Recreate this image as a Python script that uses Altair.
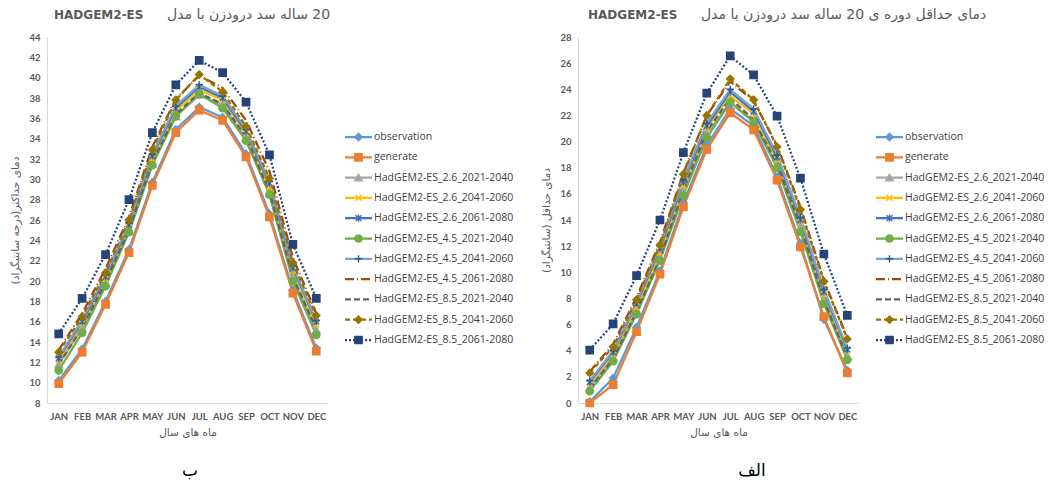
import altair as alt
import pandas as pd

MONTHS = ["JAN", "FEB", "MAR", "APR", "MAY", "JUN", "JUL", "AUG", "SEP", "OCT", "NOV", "DEC"]

SERIES = [
    "observation",
    "generate",
    "HadGEM2-ES_2.6_2021-2040",
    "HadGEM2-ES_2.6_2041-2060",
    "HadGEM2-ES_2.6_2061-2080",
    "HadGEM2-ES_4.5_2021-2040",
    "HadGEM2-ES_4.5_2041-2060",
    "HadGEM2-ES_4.5_2061-2080",
    "HadGEM2-ES_8.5_2021-2040",
    "HadGEM2-ES_8.5_2041-2060",
    "HadGEM2-ES_8.5_2061-2080",
]

# Maximum temperature (°C), one list per series, JAN..DEC
TMAX = {
    "observation":              [10.2, 13.3, 18.0, 23.1, 29.7, 34.9, 37.1, 36.1, 32.5, 26.6, 19.1, 13.4],
    "generate":                 [9.9, 13.0, 17.7, 22.8, 29.4, 34.6, 36.8, 35.8, 32.2, 26.3, 18.8, 13.1],
    "HadGEM2-ES_2.6_2021-2040": [11.8, 15.4, 19.8, 24.9, 31.5, 36.2, 38.3, 37.3, 34.0, 28.6, 20.3, 15.2],
    "HadGEM2-ES_2.6_2041-2060": [12.2, 15.8, 20.2, 25.3, 32.0, 36.7, 38.8, 37.8, 34.5, 29.2, 21.0, 15.7],
    "HadGEM2-ES_2.6_2061-2080": [12.4, 16.0, 20.4, 25.5, 32.3, 37.0, 39.1, 38.0, 34.7, 29.6, 21.3, 16.0],
    "HadGEM2-ES_4.5_2021-2040": [11.2, 14.9, 19.5, 24.8, 31.4, 36.2, 38.4, 37.0, 33.8, 28.5, 20.0, 14.7],
    "HadGEM2-ES_4.5_2041-2060": [12.5, 16.2, 20.6, 25.7, 32.5, 37.2, 39.3, 38.2, 34.9, 29.8, 21.5, 16.1],
    "HadGEM2-ES_4.5_2061-2080": [13.2, 16.8, 21.2, 26.3, 33.2, 37.9, 40.2, 39.0, 35.8, 30.8, 22.3, 16.8],
    "HadGEM2-ES_8.5_2021-2040": [11.8, 15.4, 19.9, 25.0, 31.7, 36.4, 38.5, 37.4, 34.2, 28.8, 20.4, 15.3],
    "HadGEM2-ES_8.5_2041-2060": [13.0, 16.5, 20.8, 26.0, 32.9, 37.8, 40.3, 38.6, 35.2, 30.1, 21.8, 16.6],
    "HadGEM2-ES_8.5_2061-2080": [14.8, 18.3, 22.6, 28.0, 34.6, 39.3, 41.7, 40.5, 37.6, 32.4, 23.6, 18.3],
}

# Minimum temperature (°C), one list per series, JAN..DEC
TMIN = {
    "observation":              [0.1, 1.9, 5.8, 10.1, 15.3, 19.7, 22.5, 21.2, 17.3, 12.2, 6.4, 2.5],
    "generate":                 [0.0, 1.4, 5.45, 9.85, 15.0, 19.4, 22.2, 20.9, 17.05, 11.95, 6.6, 2.3],
    "HadGEM2-ES_2.6_2021-2040": [1.2, 3.5, 7.0, 11.1, 16.2, 20.6, 23.0, 21.6, 18.2, 13.4, 7.9, 3.6],
    "HadGEM2-ES_2.6_2041-2060": [1.5, 3.7, 7.3, 11.5, 16.6, 21.0, 23.5, 22.1, 18.6, 13.8, 8.3, 4.0],
    "HadGEM2-ES_2.6_2061-2080": [1.6, 3.9, 7.6, 11.8, 16.9, 21.2, 23.8, 22.3, 18.8, 14.0, 8.5, 4.1],
    "HadGEM2-ES_4.5_2021-2040": [0.9, 3.2, 6.8, 10.9, 15.9, 20.3, 23.0, 21.5, 18.0, 13.1, 7.6, 3.3],
    "HadGEM2-ES_4.5_2041-2060": [1.7, 4.0, 7.7, 12.0, 17.1, 21.4, 24.0, 22.5, 19.0, 14.2, 8.7, 4.2],
    "HadGEM2-ES_4.5_2061-2080": [2.4, 4.5, 8.1, 12.3, 17.6, 22.0, 24.6, 23.1, 19.7, 15.0, 9.4, 5.0],
    "HadGEM2-ES_8.5_2021-2040": [1.1, 3.4, 7.0, 11.1, 16.3, 20.8, 23.3, 21.7, 18.3, 13.5, 7.9, 3.5],
    "HadGEM2-ES_8.5_2041-2060": [2.3, 4.3, 7.9, 12.1, 17.5, 22.0, 24.8, 23.2, 19.6, 14.8, 9.3, 4.9],
    "HadGEM2-ES_8.5_2061-2080": [4.05, 6.05, 9.75, 14.0, 19.15, 23.7, 26.55, 25.1, 21.95, 17.2, 11.4, 6.7],
}

LINE_COLORS = ["#5B9BD5", "#ED7D31", "#A5A5A5", "#FFC000", "#4472C4", "#70AD47",
               "#7AA3D3", "#9E480E", "#636363", "#997300", "#264478"]
MARK_COLORS = ["#5B9BD5", "#ED7D31", "#A5A5A5", "#FFC000", "#4472C4", "#70AD47",
               "#255E91", "#9E480E", "#636363", "#997300", "#264478"]
DASHES = [[1, 0], [1, 0], [1, 0], [1, 0], [1, 0], [1, 0], [1, 0],
          [9, 3, 1, 3], [6, 3], [5, 3], [2, 2]]

X_PATH = "M-0.8,-0.8L0.8,0.8M-0.8,0.8L0.8,-0.8"
STAR_PATH = "M-0.8,-0.8L0.8,0.8M-0.8,0.8L0.8,-0.8M0,-1L0,1"
PLUS_PATH = "M-1,0L1,0M0,-1L0,1"
MARKERS = {
    "observation": "diamond",
    "generate": "square",
    "HadGEM2-ES_2.6_2021-2040": "triangle-up",
    "HadGEM2-ES_2.6_2041-2060": X_PATH,
    "HadGEM2-ES_2.6_2061-2080": STAR_PATH,
    "HadGEM2-ES_4.5_2021-2040": "circle",
    "HadGEM2-ES_4.5_2041-2060": PLUS_PATH,
    "HadGEM2-ES_8.5_2041-2060": "diamond",
    "HadGEM2-ES_8.5_2061-2080": "square",
}

TITLE_MODEL = "HADGEM2-ES"
TITLE_MAX = "20 ساله سد درودزن با مدل"
TITLE_MIN = "دمای حداقل دوره ی 20 ساله سد درودزن با مدل"
YTITLE_MAX = "دمای حداکثر(درجه سانتیگراد)"
YTITLE_MIN = "دمای حداقل (سانتیگراد)"
XTITLE = "ماه های سال"
CAPTION_MAX = "ب"
CAPTION_MIN = "الف"

RLE, PDF = "\u202B", "\u202C"
GRAY = "#595959"
LABEL_FONT = "Lato"
FA_FONT = "DejaVu Sans"

color_scale = alt.Scale(domain=SERIES, range=LINE_COLORS)
mark_scale = alt.Scale(domain=SERIES, range=MARK_COLORS)
dash_scale = alt.Scale(domain=SERIES, range=DASHES)
marker_names = [s for s in SERIES if s in MARKERS]
shape_scale = alt.Scale(domain=marker_names, range=[MARKERS[s] for s in marker_names])

W, H = 281, 366
MARK_SIZE = 52


def long_table(values):
    rows = []
    for s in SERIES:
        for m, v in zip(MONTHS, values[s]):
            rows.append({"series": s, "order": SERIES.index(s), "month": m, "value": v})
    return pd.DataFrame(rows)


def panel(values, ymin, ymax, ytitle, title_fa, title_dx, caption, caption_x):
    df = long_table(values)
    x = alt.X("month:O", sort=MONTHS, scale=alt.Scale(padding=0.5),
              axis=alt.Axis(title=XTITLE, labelAngle=0, ticks=False, domainColor="#D9D9D9",
                            labelFont=LABEL_FONT, labelFontWeight="bold", labelFontSize=9.5,
                            labelColor=GRAY, labelPadding=8, titleFont=FA_FONT,
                            titleFontSize=10.5, titleFontWeight="normal", titleColor=GRAY,
                            titlePadding=7))
    y = alt.Y("value:Q", scale=alt.Scale(domain=[ymin, ymax], nice=False, zero=False),
              axis=alt.Axis(title=RLE + ytitle + PDF, values=list(range(ymin, ymax + 1, 2)),
                            grid=False, ticks=False, domainColor="#D9D9D9",
                            labelFont=LABEL_FONT, labelFontWeight="bold", labelFontSize=9.5,
                            labelColor=GRAY, labelPadding=7, titleFont=FA_FONT,
                            titleFontSize=10.5, titleFontWeight="normal", titleColor=GRAY,
                            titlePadding=8))
    base = alt.Chart(df)
    lines = base.mark_line(strokeWidth=2.25).encode(
        x=x, y=y,
        color=alt.Color("series:N", scale=color_scale, legend=None),
        strokeDash=alt.StrokeDash("series:N", scale=dash_scale, legend=None),
        detail="series:N",
        order="order:Q",
    )
    points = base.transform_filter(
        alt.FieldOneOfPredicate(field="series", oneOf=marker_names)
    ).mark_point(filled=True, size=MARK_SIZE, strokeWidth=1.5, opacity=1).encode(
        x=x, y=y,
        shape=alt.Shape("series:N", scale=shape_scale, legend=None),
        fill=alt.Fill("series:N", scale=mark_scale, legend=None),
        stroke=alt.Stroke("series:N", scale=mark_scale, legend=None),
    )
    text_df = pd.DataFrame({"t": [TITLE_MODEL]})
    model_title = alt.Chart(text_df).mark_text(
        align="left", baseline="middle", font=FA_FONT, fontWeight="bold",
        fontSize=12, color=GRAY,
    ).encode(text="t:N", x=alt.value(title_dx), y=alt.value(-22))
    fa_df = pd.DataFrame({"t": [RLE + title_fa + PDF]})
    fa_title = alt.Chart(fa_df).mark_text(
        align="left", baseline="middle", font=FA_FONT, fontSize=14, color=GRAY,
    ).encode(text="t:N", x=alt.value(title_dx + 113), y=alt.value(-22))
    cap_df = pd.DataFrame({"t": [RLE + caption + PDF]})
    cap = alt.Chart(cap_df).mark_text(
        align="center", baseline="middle", font=FA_FONT, fontSize=17, color="#000000",
    ).encode(text="t:N", x=alt.value(caption_x), y=alt.value(H + 68))
    return alt.layer(lines, points, model_title, fa_title, cap).properties(width=W, height=H)


def legend(width):
    df = pd.DataFrame({"series": SERIES, "order": range(len(SERIES))})
    y = alt.Y("series:N", sort=SERIES, axis=None,
              scale=alt.Scale(type="point", range=[100, 303], padding=0))
    base = alt.Chart(df)
    sample = base.mark_rule(strokeWidth=2.25).encode(
        y=y, x=alt.value(0), x2=alt.value(27),
        color=alt.Color("series:N", scale=color_scale, legend=None),
        strokeDash=alt.StrokeDash("series:N", scale=dash_scale, legend=None),
    )
    marks = base.transform_filter(
        alt.FieldOneOfPredicate(field="series", oneOf=marker_names)
    ).mark_point(filled=True, size=MARK_SIZE, strokeWidth=1.5, opacity=1).encode(
        y=y, x=alt.value(13.5),
        shape=alt.Shape("series:N", scale=shape_scale, legend=None),
        fill=alt.Fill("series:N", scale=mark_scale, legend=None),
        stroke=alt.Stroke("series:N", scale=mark_scale, legend=None),
    )
    labels = base.mark_text(align="left", baseline="middle", font="Open Sans",
                            fontSize=10.5, color="#404040").encode(
        y=y, x=alt.value(29), text="series:N")
    return alt.layer(sample, marks, labels).properties(width=width, height=H)


left = panel(TMAX, 8, 44, YTITLE_MAX, TITLE_MAX, 7, CAPTION_MAX, 143)
right = panel(TMIN, 0, 28, YTITLE_MIN, TITLE_MIN, 10, CAPTION_MIN, 174)

chart = alt.hconcat(
    left, legend(216), right, legend(150), spacing=17, bounds="flush"
).resolve_scale(
    x="independent", y="independent"
).properties(
    padding={"left": 10, "top": 8, "right": 2, "bottom": 5}
).configure_view(stroke=None)

chart.save("out.html", embed_options={"renderer": "svg", "actions": False})
